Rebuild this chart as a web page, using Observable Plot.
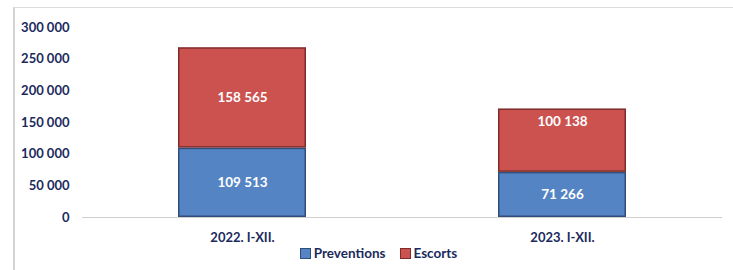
<!DOCTYPE html>
<html>
<head>
<meta charset="utf-8">
<script src="https://cdn.jsdelivr.net/npm/d3@7"></script>
<script src="https://cdn.jsdelivr.net/npm/@observablehq/plot@0.6"></script>
<style>
  html, body { margin: 0; padding: 0; background: #fff; }
  #wrap { position: relative; width: 733px; height: 270px; overflow: hidden; font-family: Lato, "Open Sans", sans-serif; }
  #frame { position: absolute; left: 13px; top: 7px; right: -2px; bottom: -2px; border-left: 2px solid #d4d4d4; border-top: 1px solid #dcdcdc; pointer-events: none; }
  #legend { position: absolute; left: 0; width: 733px; top: 245px; display: flex; justify-content: center; gap: 14px; font-weight: 700; font-size: 13.5px; color: #1b2a5c; margin-left: 12px; }
  #legend span.sw { display: inline-block; width: 9px; height: 9px; margin-right: 3px; vertical-align: -0.5px; }
</style>
</head>
<body>
<div id="wrap"><div id="chart"></div><div id="legend"></div><div id="frame"></div></div>
<script>
const categories = ["2022. I-XII.", "2023. I-XII."];
const series = ["Preventions", "Escorts"];
const preventions = [109513, 71266];
const escorts = [158565, 100138];
const yTicks = [0, 50000, 100000, 150000, 200000, 250000, 300000];
const colors = ["#5584c4", "#cc5250"];
const strokes = ["#2f4f7a", "#7e2b2a"];

const data = [];
categories.forEach((c, i) => {
  data.push({cat: c, series: "Preventions", value: preventions[i], labelTop: false});
  data.push({cat: c, series: "Escorts", value: escorts[i], labelTop: i === 1});
});

const fmt = v => d3.format(",")(v).replace(/,/g, " ");
const navy = "#1b2a5c";

const chart = Plot.plot({
  width: 733,
  height: 245,
  marginLeft: 82,
  marginRight: 11,
  marginTop: 27,
  marginBottom: 28,
  style: {fontFamily: "Lato, 'Open Sans', sans-serif", fontSize: "12px", fontWeight: 700, color: navy, background: "transparent"},
  x: {domain: categories, paddingInner: 0.6, paddingOuter: 0.3, label: null},
  y: {domain: [0, 300000], label: null},
  color: {domain: series, range: colors},
  marks: [
    Plot.ruleY([0], {stroke: "#cfcfcf", strokeWidth: 1.2}),
    Plot.barY(data, Plot.stackY({
      x: "cat", y: "value", fill: "series", order: series,
      stroke: d => d.series === "Preventions" ? strokes[0] : strokes[1],
      strokeWidth: 1.5, inset: 0.75
    })),
    Plot.text(data, Plot.stackY({
      x: "cat", y: "value", z: "series", order: series,
      text: d => d.labelTop ? null : fmt(d.value),
      fill: "white", fontSize: 13.5, fontWeight: 700
    })),
    Plot.text(data, Plot.stackY2({
      x: "cat", y: "value", z: "series", order: series,
      text: d => d.labelTop ? fmt(d.value) : null,
      dy: 13, fill: "white", fontSize: 13.5, fontWeight: 700
    })),
    Plot.axisY({ticks: yTicks, tickFormat: fmt, tickSize: 0, tickPadding: 13, fontSize: 13, fontWeight: 700, fill: navy}),
    Plot.axisX({tickSize: 0, tickPadding: 15, fontSize: 13, fontWeight: 700, fill: navy})
  ]
});
document.getElementById("chart").appendChild(chart);

const legend = document.getElementById("legend");
series.forEach((s, i) => {
  const item = document.createElement("div");
  item.innerHTML = `<span class="sw" style="background:${colors[i]};border:1px solid ${strokes[i]}"></span>${s}`;
  legend.appendChild(item);
});
</script>
</body>
</html>
